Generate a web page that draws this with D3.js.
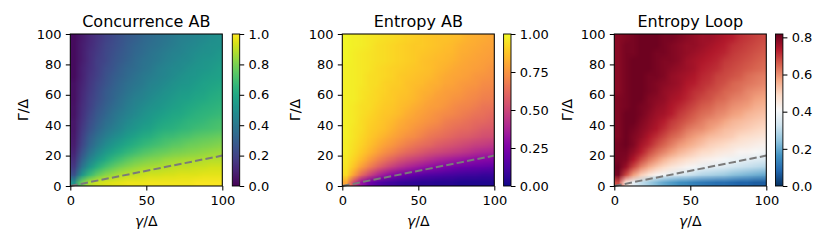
<!DOCTYPE html>
<html lang="en">
<head>
<meta charset="UTF-8">
<title>Concurrence and entropy maps</title>
<script src="https://cdn.jsdelivr.net/npm/d3@7/dist/d3.min.js"></script>
<style>
    body { margin: 0; background: #fff; }
    svg text { font-family: "DejaVu Sans", sans-serif; fill: #000; }
</style>
</head>
<body>
<svg width="830" height="249"></svg>
<script>
    // cell centres of the grid, gamma/Delta along x, Gamma/Delta along y
    var gammaCentres = [2.5, 7.5, 12.5, 17.5, 22.5, 27.5, 32.5, 37.5, 42.5, 47.5,
        52.5, 57.5, 62.5, 67.5, 72.5, 77.5, 82.5, 87.5, 92.5, 97.5];
    var GammaCentres = gammaCentres.slice();

    var xTicks = [0, 50, 100];
    var yTicks = [0, 20, 40, 60, 80, 100];
    var titles = ["Concurrence AB", "Entropy AB", "Entropy Loop"];

    // dashed reference line Gamma = gamma / 5
    var boundary = [[0, 0], [100, 20]];

    // rows go from Gamma = 2.5 (bottom) up to Gamma = 97.5 (top)
    var concurrenceAB = [
        [.50,.78,.88,.92,.94,.95,.96,.97,.97,.97,.98,.98,.98,.98,.98,.98,.99,.99,.99,.99],
        [.25,.52,.67,.76,.82,.85,.88,.90,.91,.92,.93,.93,.94,.94,.95,.95,.95,.96,.96,.96],
        [.17,.39,.53,.63,.70,.75,.79,.82,.84,.86,.87,.88,.89,.90,.91,.91,.92,.92,.93,.93],
        [.13,.31,.44,.53,.60,.66,.70,.74,.77,.79,.81,.82,.84,.85,.86,.87,.87,.88,.89,.89],
        [.10,.25,.37,.46,.53,.58,.62,.66,.69,.72,.74,.76,.77,.79,.80,.81,.82,.83,.84,.85],
        [.08,.21,.32,.40,.47,.52,.56,.60,.63,.66,.68,.70,.72,.74,.75,.77,.78,.79,.80,.81],
        [.07,.19,.29,.36,.42,.47,.51,.55,.58,.61,.63,.66,.68,.69,.71,.72,.74,.75,.76,.77],
        [.06,.17,.25,.32,.38,.42,.46,.50,.53,.56,.58,.61,.63,.64,.66,.67,.69,.70,.71,.72],
        [.06,.15,.23,.29,.35,.39,.43,.47,.50,.53,.55,.58,.60,.61,.63,.65,.66,.67,.69,.70],
        [.05,.14,.21,.27,.32,.37,.41,.44,.47,.50,.53,.55,.57,.59,.60,.62,.64,.65,.66,.67],
        [.05,.13,.19,.25,.30,.34,.38,.42,.45,.48,.50,.52,.54,.56,.58,.60,.61,.63,.64,.65],
        [.04,.12,.18,.23,.28,.32,.36,.40,.43,.45,.48,.50,.52,.54,.56,.57,.59,.60,.62,.63],
        [.04,.11,.17,.22,.27,.31,.34,.38,.41,.43,.46,.48,.50,.52,.54,.55,.57,.58,.60,.61],
        [.04,.10,.16,.21,.25,.29,.33,.36,.39,.41,.44,.46,.48,.50,.52,.53,.55,.57,.58,.59],
        [.03,.09,.15,.19,.24,.28,.31,.34,.37,.40,.42,.44,.46,.48,.50,.52,.53,.55,.56,.57],
        [.03,.09,.14,.18,.23,.26,.30,.33,.35,.38,.40,.43,.45,.47,.48,.50,.52,.53,.54,.56],
        [.03,.08,.13,.18,.21,.25,.28,.31,.34,.37,.39,.41,.43,.45,.47,.48,.50,.52,.53,.54],
        [.03,.08,.13,.17,.21,.24,.27,.30,.33,.35,.38,.40,.42,.44,.45,.47,.49,.50,.51,.53],
        [.03,.08,.12,.16,.20,.23,.26,.29,.32,.34,.36,.38,.40,.42,.44,.46,.47,.49,.50,.51],
        [.03,.07,.11,.15,.19,.22,.25,.28,.30,.33,.35,.37,.39,.41,.43,.44,.46,.47,.49,.50]
    ];

    var entropyAB = [
        [.80,.50,.32,.22,.16,.12,.10,.08,.07,.06,.05,.05,.04,.04,.04,.03,.03,.03,.03,.03],
        [.93,.78,.62,.50,.40,.33,.28,.24,.21,.18,.16,.14,.13,.12,.11,.10,.09,.09,.08,.08],
        [.95,.87,.77,.68,.60,.53,.47,.42,.38,.35,.32,.29,.27,.25,.23,.21,.20,.19,.18,.17],
        [.96,.91,.85,.78,.71,.65,.60,.55,.51,.48,.45,.42,.39,.37,.35,.33,.31,.29,.28,.27],
        [.97,.93,.89,.84,.79,.74,.70,.66,.62,.59,.56,.53,.51,.49,.47,.45,.43,.41,.39,.38],
        [.97,.94,.91,.87,.83,.79,.76,.72,.69,.66,.63,.61,.58,.56,.54,.52,.50,.48,.47,.45],
        [.98,.95,.92,.89,.86,.83,.80,.77,.74,.72,.69,.66,.64,.62,.60,.58,.57,.55,.53,.52],
        [.98,.95,.93,.90,.88,.86,.83,.80,.78,.75,.73,.70,.68,.66,.64,.62,.61,.59,.57,.56],
        [.98,.96,.93,.91,.89,.87,.85,.82,.80,.78,.76,.74,.72,.69,.67,.66,.64,.62,.61,.59],
        [.98,.96,.94,.92,.90,.88,.87,.85,.82,.80,.78,.76,.74,.72,.71,.69,.67,.65,.64,.62],
        [.98,.96,.94,.93,.91,.89,.88,.86,.84,.82,.80,.78,.77,.75,.73,.71,.70,.68,.66,.65],
        [.98,.97,.95,.93,.92,.90,.89,.87,.86,.84,.82,.80,.78,.77,.75,.74,.72,.71,.69,.68],
        [.98,.97,.95,.94,.92,.91,.89,.88,.87,.85,.83,.82,.80,.78,.77,.76,.74,.73,.71,.70],
        [.98,.97,.96,.94,.93,.91,.90,.89,.87,.86,.85,.83,.82,.80,.79,.77,.76,.75,.73,.72],
        [.98,.97,.96,.94,.93,.92,.91,.89,.88,.87,.86,.85,.83,.81,.80,.79,.78,.76,.75,.74],
        [.98,.97,.96,.95,.93,.92,.91,.90,.89,.88,.87,.86,.84,.83,.81,.80,.79,.78,.77,.75],
        [.99,.97,.96,.95,.94,.93,.92,.91,.90,.89,.87,.86,.85,.84,.83,.81,.80,.79,.78,.77],
        [.99,.97,.96,.95,.94,.93,.92,.91,.90,.89,.88,.87,.86,.85,.84,.82,.81,.80,.79,.78],
        [.99,.98,.97,.96,.94,.93,.92,.91,.90,.89,.89,.88,.87,.86,.85,.83,.82,.81,.80,.79],
        [.99,.98,.97,.96,.95,.94,.93,.92,.91,.90,.89,.88,.87,.87,.86,.85,.83,.82,.81,.80]
    ];

    var entropyLoop = [
        [.68,.46,.37,.31,.27,.23,.20,.18,.16,.15,.13,.12,.11,.10,.10,.09,.08,.08,.07,.07],
        [.80,.68,.58,.51,.46,.42,.40,.37,.35,.33,.31,.29,.28,.27,.26,.24,.23,.22,.21,.20],
        [.81,.76,.68,.61,.56,.52,.49,.46,.44,.42,.40,.38,.37,.36,.35,.33,.32,.31,.30,.29],
        [.80,.79,.74,.68,.63,.59,.55,.52,.50,.48,.46,.44,.43,.42,.40,.39,.38,.37,.36,.35],
        [.80,.80,.77,.73,.68,.64,.61,.58,.55,.53,.51,.49,.48,.46,.45,.44,.42,.42,.41,.40],
        [.80,.81,.79,.75,.72,.68,.65,.62,.59,.57,.55,.53,.51,.50,.49,.47,.46,.45,.44,.43],
        [.79,.81,.79,.77,.74,.71,.68,.65,.63,.60,.58,.56,.54,.53,.52,.51,.49,.48,.47,.46],
        [.79,.81,.80,.78,.76,.74,.71,.68,.66,.63,.61,.60,.58,.56,.54,.53,.52,.51,.50,.49],
        [.79,.81,.81,.79,.77,.75,.73,.70,.68,.66,.64,.62,.60,.59,.57,.55,.54,.53,.52,.51],
        [.79,.81,.81,.80,.78,.76,.75,.73,.70,.68,.66,.64,.63,.61,.60,.58,.57,.55,.54,.53],
        [.79,.80,.81,.80,.79,.77,.76,.74,.72,.70,.68,.66,.65,.63,.62,.60,.59,.58,.56,.55],
        [.79,.80,.81,.81,.79,.78,.77,.75,.74,.72,.70,.68,.67,.65,.64,.62,.61,.60,.58,.57],
        [.78,.80,.81,.81,.80,.79,.77,.76,.75,.73,.71,.70,.68,.67,.65,.64,.63,.61,.60,.59],
        [.78,.80,.81,.81,.80,.79,.78,.77,.76,.74,.73,.71,.70,.68,.67,.65,.64,.63,.62,.61],
        [.78,.80,.81,.81,.80,.80,.79,.77,.76,.75,.74,.72,.71,.69,.68,.67,.66,.64,.63,.62],
        [.78,.80,.81,.81,.81,.80,.79,.78,.77,.76,.75,.73,.72,.71,.69,.68,.67,.66,.65,.64],
        [.78,.80,.81,.81,.81,.80,.79,.79,.78,.76,.75,.74,.73,.72,.70,.69,.68,.67,.66,.65],
        [.78,.80,.80,.81,.81,.80,.80,.79,.78,.77,.76,.75,.74,.73,.72,.70,.69,.68,.67,.66],
        [.78,.80,.80,.81,.81,.81,.80,.79,.78,.77,.77,.76,.75,.74,.73,.71,.70,.69,.68,.67],
        [.78,.79,.80,.81,.81,.81,.80,.80,.79,.78,.77,.76,.76,.75,.74,.73,.71,.70,.69,.68]
    ];

    var cbTicks = [[0, .2, .4, .6, .8, 1], [0, .25, .5, .75, 1], [0, .2, .4, .6, .8]];

    // matplotlib's RdBu_r: straight-line blend between the eleven brewer colours
    var rdBuR = d3.piecewise(d3.interpolateRgb, ["#053061", "#2166ac", "#4393c3", "#92c5de", "#d1e5f0",
        "#f7f7f7", "#fddbc7", "#f4a582", "#d6604d", "#b2182b", "#67001f"]);

    var panels = [
        {grid: concurrenceAB, vmax: 1, cmap: d3.interpolateViridis, fmt: d3.format(".1f"),
            left: 70.3, cbLeft: 232.3},
        {grid: entropyAB, vmax: 1, cmap: d3.interpolatePlasma, fmt: d3.format(".2f"),
            left: 342.3, cbLeft: 503.6},
        {grid: entropyLoop, vmax: 0.818, cmap: rdBuR, fmt: d3.format(".1f"),
            left: 614.3, cbLeft: 775.5}
    ];

    var svg = d3.select("svg");
    var plotTop = 34, size = 152, cbWidth = 7.4;
    var tickLen = 4.5, tickPad = 4.3;
    var defs = svg.append("defs");

    panels.forEach(function (p, k) {
        var x = d3.scaleLinear().domain([0, 100]).range([p.left, p.left + size]);
        var y = d3.scaleLinear().domain([0, 100]).range([plotTop + size, plotTop]);
        var color = d3.scaleSequential(p.cmap).domain([0, p.vmax]);
        var g = svg.append("g");

        // heat map: one canvas pixel per grid cell, scaled up smoothly by the browser
        var nx = gammaCentres.length, ny = GammaCentres.length;
        var cv = document.createElement("canvas");
        cv.width = nx;
        cv.height = ny;
        var ctx = cv.getContext("2d");
        var img = ctx.createImageData(nx, ny);
        p.grid.forEach(function (row, i) {
            row.forEach(function (v, j) {
                var c = d3.rgb(color(v));
                var o = ((ny - 1 - i) * nx + j) * 4;
                img.data[o] = c.r;
                img.data[o + 1] = c.g;
                img.data[o + 2] = c.b;
                img.data[o + 3] = 255;
            });
        });
        ctx.putImageData(img, 0, 0);

        var cellW = (x(gammaCentres[1]) - x(gammaCentres[0]));
        var cellH = (y(GammaCentres[0]) - y(GammaCentres[1]));
        g.append("image")
            .attr("href", cv.toDataURL())
            .attr("x", x(gammaCentres[0]) - cellW / 2)
            .attr("y", y(GammaCentres[ny - 1]) - cellH / 2)
            .attr("width", cellW * nx)
            .attr("height", cellH * ny)
            .attr("preserveAspectRatio", "none");

        // dashed line
        g.append("path")
            .attr("d", d3.line().x(function (d) { return x(d[0]); }).y(function (d) { return y(d[1]); })(boundary))
            .attr("fill", "none")
            .attr("stroke", "#7a7a7a")
            .attr("stroke-width", 2)
            .attr("stroke-dasharray", "7.4,3.2");

        // frame
        g.append("rect")
            .attr("x", x(0)).attr("y", y(100))
            .attr("width", x(100) - x(0)).attr("height", y(0) - y(100))
            .attr("fill", "none").attr("stroke", "#000").attr("stroke-width", 1.05);

        // axes
        var ax = g.append("g")
            .attr("transform", "translate(0," + y(0) + ")")
            .call(d3.axisBottom(x).tickValues(xTicks).tickSize(tickLen).tickPadding(tickPad + 0.8));
        var ay = g.append("g")
            .attr("transform", "translate(" + x(0) + ",0)")
            .call(d3.axisLeft(y).tickValues(yTicks).tickSize(tickLen).tickPadding(tickPad));
        [ax, ay].forEach(function (a) {
            a.select(".domain").remove();
            a.attr("font-size", 13).attr("font-family", "DejaVu Sans");
            a.selectAll("line").attr("stroke", "#000").attr("stroke-width", 1.05);
        });

        // title and axis labels
        g.append("text")
            .attr("x", x(50)).attr("y", 27)
            .attr("text-anchor", "middle")
            .attr("font-size", 16)
            .text(titles[k]);

        var xl = g.append("text")
            .attr("x", x(50)).attr("y", 225.5)
            .attr("text-anchor", "middle")
            .attr("font-size", 14);
        xl.append("tspan").attr("font-style", "italic").text("γ");
        xl.append("tspan").text("/Δ");

        g.append("text")
            .attr("transform", "translate(" + (p.left - 42.5) + "," + y(50) + ") rotate(-90)")
            .attr("text-anchor", "middle")
            .attr("font-size", 14)
            .text("Γ/Δ");

        // colour bar
        var gid = "cb" + k;
        var grad = defs.append("linearGradient")
            .attr("id", gid)
            .attr("x1", 0).attr("y1", 1).attr("x2", 0).attr("y2", 0);
        grad.selectAll("stop")
            .data(d3.range(0, 1.0001, 0.02))
            .enter().append("stop")
            .attr("offset", function (t) { return t; })
            .attr("stop-color", function (t) { return color(t * p.vmax); });

        var cy = d3.scaleLinear().domain([0, p.vmax]).range([plotTop + size, plotTop]);
        g.append("rect")
            .attr("x", p.cbLeft).attr("y", plotTop)
            .attr("width", cbWidth).attr("height", size)
            .attr("fill", "url(#" + gid + ")")
            .attr("stroke", "#000").attr("stroke-width", 0.9);
        var ac = g.append("g")
            .attr("transform", "translate(" + (p.cbLeft + cbWidth) + ",0)")
            .call(d3.axisRight(cy).tickValues(cbTicks[k]).tickFormat(p.fmt).tickSize(tickLen).tickPadding(tickPad));
        ac.select(".domain").remove();
        ac.attr("font-size", 13).attr("font-family", "DejaVu Sans");
        ac.selectAll("line").attr("stroke", "#000").attr("stroke-width", 1.05);
    });
</script>
</body>
</html>
